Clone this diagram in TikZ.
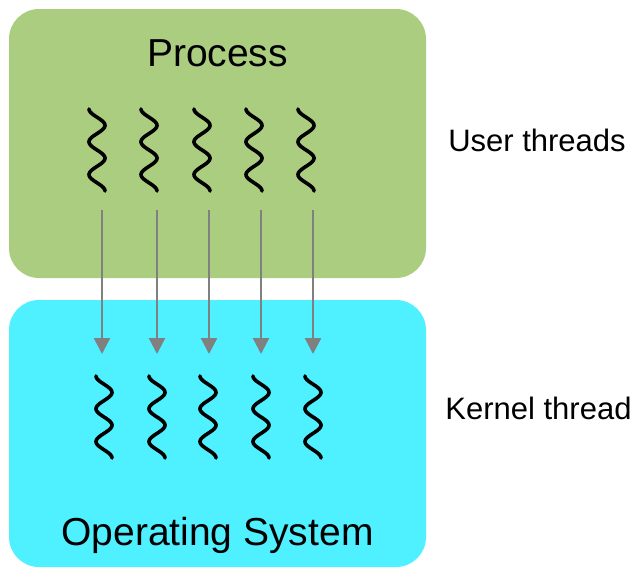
\documentclass[tikz,border=0pt]{standalone}
\usepackage{fontspec}
\setmainfont{Liberation Sans}
\usetikzlibrary{arrows.meta}
\definecolor{procgreen}{RGB}{171,205,128}
\definecolor{oscyan}{RGB}{79,240,255}
\definecolor{arrgray}{RGB}{128,128,128}
\tikzset{
  boxstyle/.style={rounded corners=30pt, draw=none},
  bigtext/.style={font=\fontsize{39}{47}\selectfont, anchor=base, inner sep=0pt},
  sidetext/.style={font=\fontsize{31}{37}\selectfont, anchor=base, inner sep=0pt},
  squiggle/.style={line width=3.6pt, black, line cap=round},
  arr/.style={draw=arrgray, line width=2.4pt, -{Triangle[width=16pt,length=16pt]}, arrgray}
}
\begin{document}
\begin{tikzpicture}[x=1pt,y=-1pt]
\useasboundingbox (0,0) rectangle (637,568);
% boxes
\fill[boxstyle, procgreen] (9,9) rectangle (426,278);
\fill[boxstyle, oscyan] (9,300) rectangle (426,567);
\node[bigtext] (process) at (217.5,66) {Process};
\node[bigtext] (os) at (217.5,545) {Operating System};
\node[sidetext] (user) at (537,151) {User threads};
\node[sidetext] (kernel) at (538.5,419) {Kernel thread};
% user thread squiggles
\foreach \c in {97,149,202,254,306}{
  \draw[squiggle] plot[domain=0:82, samples=80, smooth] ({\c - 8*cos(\x*180/16.4)}, {109+\x});
}
% kernel thread squiggles
\foreach \c in {104,157,208,261,313}{
  \draw[squiggle] plot[domain=0:82, samples=80, smooth] ({\c - 8*cos(\x*180/16.4)}, {376+\x});
}
% arrows
\foreach \i/\c in {1/102,2/157,3/209,4/261,5/313}{
  \coordinate (u\i) at (\c,210);
  \coordinate (k\i) at (\c,354);
  \draw[arr] (u\i) -- (k\i);
}
\end{tikzpicture}
\end{document}
